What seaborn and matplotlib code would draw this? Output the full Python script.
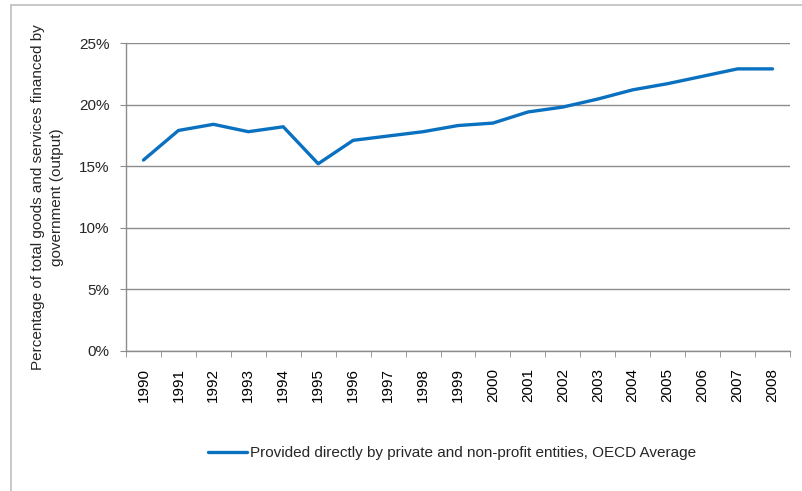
import matplotlib
matplotlib.use("Agg")
import matplotlib.pyplot as plt
import seaborn as sns
import pandas as pd
from matplotlib.lines import Line2D
from matplotlib.ticker import FixedLocator, FuncFormatter

years = list(range(1990, 2009))
share = [15.5, 17.9, 18.4, 17.8, 18.2, 15.2, 17.1, 17.45, 17.8, 18.3, 18.5,
         19.4, 19.8, 20.45, 21.2, 21.7, 22.3, 22.9, 22.9]
series_name = "Provided directly by private and non-profit entities, OECD Average"
ylabel = "Percentage of total goods and services financed by\ngovernment (output)"
yticks = [0, 5, 10, 15, 20, 25]

df = pd.DataFrame({"year": years, "share": share})

sns.set_style("white")
plt.rcParams["font.family"] = ["Liberation Sans", "DejaVu Sans"]

fig = plt.figure(figsize=(8.02, 4.91), dpi=100)
ax = fig.add_axes([126 / 802, 1 - 351 / 491, (790 - 126) / 802, (351 - 43) / 491])

sns.lineplot(data=df, x="year", y="share", ax=ax, color="#0A70C0",
             linewidth=2.4, label=series_name, legend=False)

ax.set_xlim(1989.5, 2008.5)
ax.set_ylim(0, 25)
ax.set_yticks(yticks)
ax.yaxis.set_major_formatter(FuncFormatter(lambda v, p: f"{v:.0f}%"))
ax.yaxis.grid(True, color="#8C8C8C", linewidth=1)
ax.set_axisbelow(True)

ax.set_xticks(years)
ax.set_xticklabels([str(y) for y in years], rotation=90)
ax.xaxis.set_minor_locator(FixedLocator([y - 0.5 for y in years] + [2008.5]))
ax.tick_params(axis="x", which="major", length=0, pad=12, labelsize=11, colors="#000000")
ax.tick_params(axis="x", which="minor", length=4, color="#8C8C8C", direction="out", bottom=True)
ax.tick_params(axis="y", length=4, color="#8C8C8C", direction="out", left=True,
               labelsize=11, pad=8)

for side in ["top", "right"]:
    ax.spines[side].set_visible(False)
for side in ["left", "bottom"]:
    ax.spines[side].set_color("#8C8C8C")
    ax.spines[side].set_linewidth(1)

ax.set_xlabel("")
ax.set_ylabel(ylabel, fontsize=11, linespacing=1.45, labelpad=11)

handle = Line2D([], [], color="#0A70C0", linewidth=2.4)
fig.legend([handle], [series_name], loc="center", bbox_to_anchor=(452 / 802, 1 - 453 / 491),
           frameon=False, fontsize=11, handlelength=2.5, handletextpad=0.2)

# outer chart frame (partially visible in the reference)
fig.add_artist(Line2D([11 / 802, 11 / 802], [0, 1 - 5 / 491], transform=fig.transFigure,
                      color="#BFBFBF", linewidth=1.2))
fig.add_artist(Line2D([11 / 802, 1], [1 - 5 / 491, 1 - 5 / 491], transform=fig.transFigure,
                      color="#BFBFBF", linewidth=1.2))

fig.savefig("out.png", dpi=100)
plt.close(fig)
